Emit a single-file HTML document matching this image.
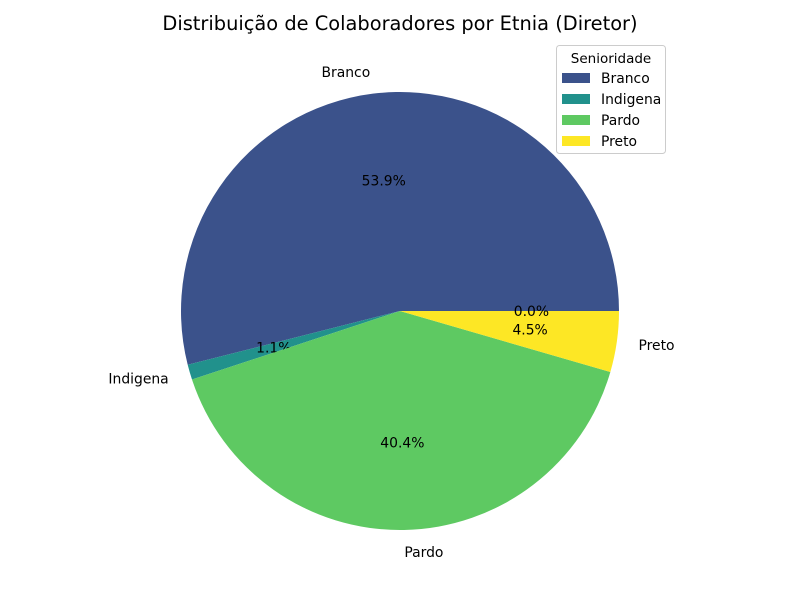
<!DOCTYPE html>
<html><head><meta charset="utf-8"><style>
body{margin:0;background:#fff;}
svg{display:block;font-family:"DejaVu Sans","Liberation Sans",sans-serif;}
</style></head><body>
<svg id="chart" width="800" height="600">
<rect width="800" height="600" fill="#fff"/>
<text x="400" y="30" text-anchor="middle" font-size="19.4">Distribuição de Colaboradores por Etnia (Diretor)</text>
<g id="slices"></g>
<g id="legend">
<rect x="556.5" y="45.5" width="109" height="108" rx="3" fill="#fff" stroke="#ccc"/>
<text x="611" y="63" text-anchor="middle" font-size="13.5">Senioridade</text>
</g>
</svg>
<script>
const categories=["Branco","Indigena","Pardo","Preto",""];
const values=[53.93,1.12,40.43,4.49,0.0];
const colors=["#3b528b","#21918c","#5ec962","#fde725","#fde725"];
const cx=400,cy=311,R=219;
const svg=document.getElementById('slices');
const NS="http://www.w3.org/2000/svg";
const total=values.reduce((a,b)=>a+b,0);
let a0=0;
function pt(a,r){return [cx+r*Math.cos(a*Math.PI/180),cy-r*Math.sin(a*Math.PI/180)];}
values.forEach((v,i)=>{
  const sw=v/total*360, a1=a0+sw, mid=a0+sw/2;
  if(sw>0){
    const p=document.createElementNS(NS,'path');
    const [x0,y0]=pt(a0,R),[x1,y1]=pt(a1,R);
    p.setAttribute('d',`M${cx},${cy}L${x0},${y0}A${R},${R} 0 ${sw>180?1:0} 0 ${x1},${y1}Z`);
    p.setAttribute('fill',colors[i]);
    
    
    svg.appendChild(p);
  }
  if(categories[i]){
    const [lx,ly]=pt(mid,R*1.1);
    const t=document.createElementNS(NS,'text');
    t.setAttribute('x',lx);t.setAttribute('y',ly+5);t.setAttribute('font-size','13.9');
    t.setAttribute('text-anchor',Math.abs(lx-cx)<1?'middle':(lx<cx?'end':'start'));
    t.textContent=categories[i];
    
    
    svg.appendChild(t);
  }
  const [px,py]=pt(mid,R*0.6);
  const t2=document.createElementNS(NS,'text');
  t2.setAttribute('x',px);t2.setAttribute('y',py+5);t2.setAttribute('font-size','13.9');
  t2.setAttribute('text-anchor','middle');
  t2.textContent=(v/total*100).toFixed(1)+'%';
  
  
  svg.appendChild(t2);
  a0=a1;
});
const lg=document.getElementById('legend');
categories.slice(0,4).forEach((c,i)=>{
  const y=78+i*21;
  const r=document.createElementNS(NS,'rect');
  r.setAttribute('x',562);r.setAttribute('y',y-5);r.setAttribute('width',28);r.setAttribute('height',10);
  r.setAttribute('fill',colors[i]);
  
  
  lg.appendChild(r);
  const t=document.createElementNS(NS,'text');
  t.setAttribute('x',601);t.setAttribute('y',y+5);t.setAttribute('font-size','13.9');
  t.textContent=c;
  
  
  lg.appendChild(t);
});
</script>
</body></html>
